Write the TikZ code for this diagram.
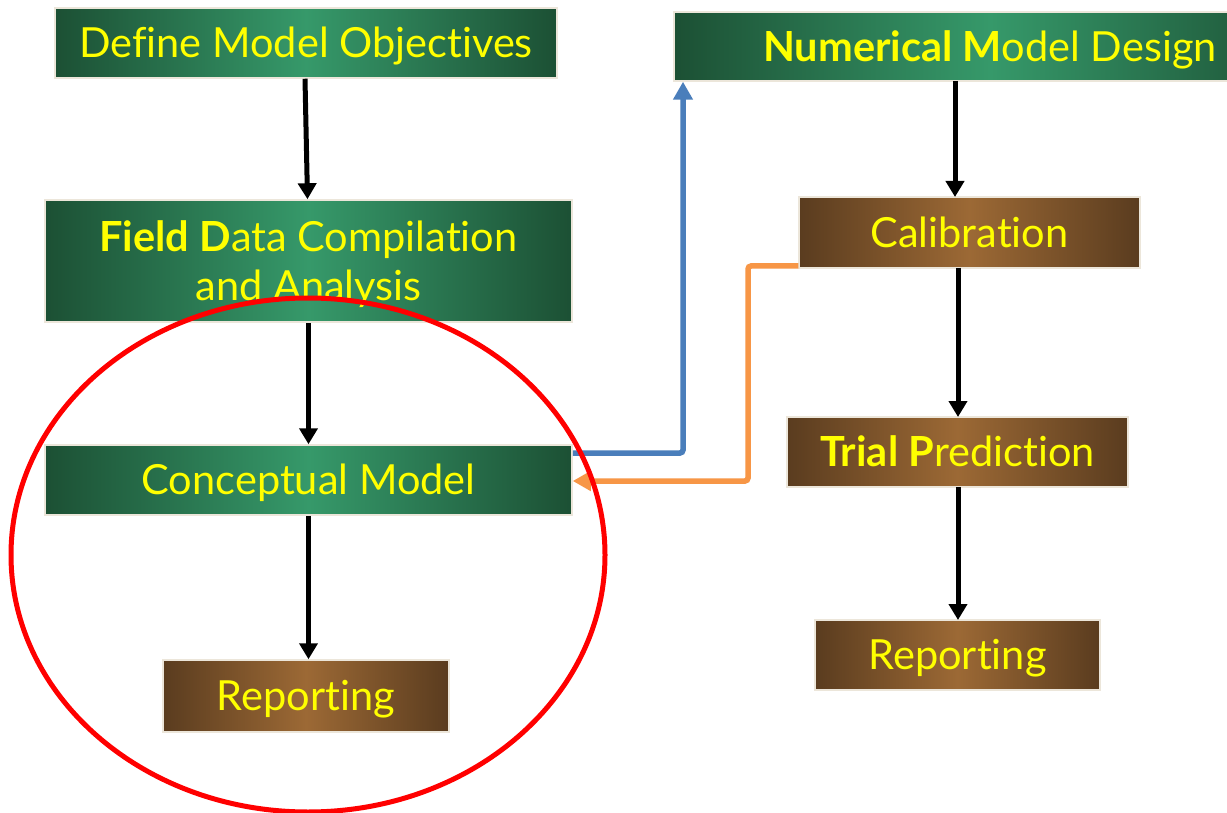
\documentclass[tikz,border=0pt]{standalone}
\usepackage{fontspec}
\setmainfont{Lato}[Ligatures={NoCommon,NoContextual}]
\usetikzlibrary{arrows.meta,shapes.geometric}
\definecolor{gdark}{HTML}{1C5034}
\definecolor{glight}{HTML}{36996A}
\definecolor{bdark}{HTML}{5A3C1F}
\definecolor{blight}{HTML}{9C6935}
\definecolor{bord}{HTML}{ECE6DA}
\definecolor{txt}{HTML}{FFFF00}
\definecolor{blueln}{HTML}{4A7EBB}
\definecolor{orangeln}{HTML}{F79646}
\tikzset{
  boxbase/.style={draw=bord, line width=1.5pt, text=txt, font=\fontsize{41.5}{49}\selectfont,
    align=center, inner sep=0pt, text height=29.7pt, text depth=0pt},
  gbox/.style={boxbase, left color=gdark, right color=gdark, middle color=glight},
  bbox/.style={boxbase, left color=bdark, right color=bdark, middle color=blight},
  flow/.style={line width=5pt, -{Triangle[length=16pt,width=18pt]}},
  side/.style={line width=5.5pt, rounded corners=3pt, -{Triangle[length=18pt,width=19pt]}}
}
\begin{document}
\begin{tikzpicture}[x=1pt,y=-1pt]
\useasboundingbox (0,0) rectangle (1227,813);
\clip (0,0) rectangle (1227,813);
\fill[white] (0,0) rectangle (1227,813);
% left column
\node[gbox, minimum width=502pt, minimum height=70pt] (dmo) at (306,43) {Define Model Objectives};
\node[gbox, minimum width=527pt, minimum height=122pt, text height=78.7pt] (fdc) at (308.5,261) {\textbf{Field D}ata Compilation\\and Analysis};
\node[gbox, minimum width=527pt, minimum height=70pt] (cm) at (308.5,480) {Conceptual Model};
\node[bbox, minimum width=286pt, minimum height=72pt] (rep1) at (306,696) {Reporting};
% right column
\node[gbox, minimum width=632pt, minimum height=69pt] (nmd) at (990,46.5) {\textbf{Numerical M}odel Design};
\node[bbox, minimum width=341pt, minimum height=71pt] (cal) at (969.5,232.5) {Calibration};
\node[bbox, minimum width=341pt, minimum height=70pt] (tp) at (957.5,452) {\textbf{Trial P}rediction};
\node[bbox, minimum width=285pt, minimum height=70pt] (rep2) at (957.5,655) {Reporting};
% black flow arrows
\draw[flow] ([xshift=-1pt]dmo.south) -- ([xshift=1.5pt]dmo.south |- fdc.north);
\draw[flow] (fdc.south) -- (cm.north);
\draw[flow] (cm.south) -- (rep1.north -| cm.south);
\draw[flow] (955,81) -- (955,197);
\draw[flow] (958,268) -- (958,417);
\draw[flow] (958,487) -- (958,620);
% feedback connectors
\coordinate (bl1) at (683,453);
\coordinate (or1) at (748,266);
\coordinate (or2) at (748,481);
\draw[side, blueln] (cm.east |- bl1) -- (bl1) -- (bl1 |- nmd.south);
\draw[side, orangeln] (cal.west |- or1) -- (or1) -- (or2) -- (cm.east |- or2);
% red ellipse
\node[draw=red, line width=5pt, ellipse, minimum width=594pt, minimum height=514pt, inner sep=0pt] (ring) at (308,555) {};
\end{tikzpicture}
\end{document}
